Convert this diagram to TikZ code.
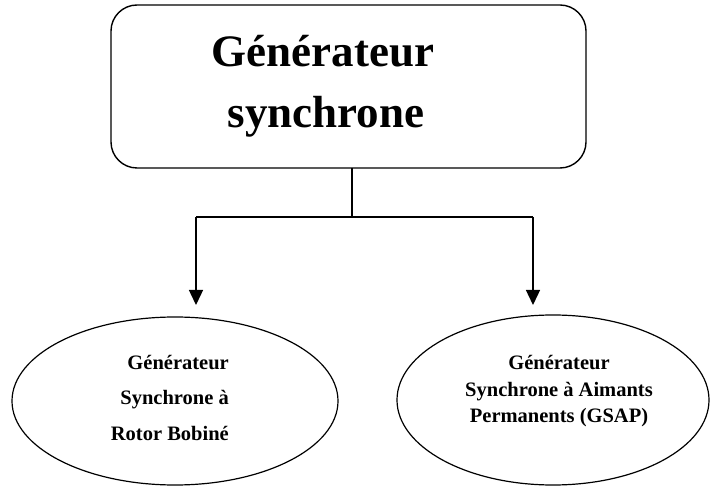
\documentclass[tikz,border=0pt]{standalone}
\usepackage{fontspec}
\setmainfont{Liberation Serif}
\usetikzlibrary{arrows.meta,shapes.geometric}
\begin{document}
\begin{tikzpicture}[x=1pt,y=-1pt,
  line/.style={line width=1.4pt,black},
  arr/.style={line, -{Triangle[length=15pt,width=14pt]}},
  titlebox/.style={draw,line width=1.4pt,rounded corners=26pt,minimum width=475pt,minimum height=163pt,inner sep=0pt},
  oval/.style={draw,ellipse,line width=1.2pt,inner sep=0pt},
  big/.style={font=\bfseries\fontsize{45}{54}\selectfont,inner sep=0pt,anchor=base},
  small/.style={font=\bfseries\fontsize{20.5}{25}\selectfont,inner sep=0pt,anchor=base},
  smallr/.style={small,anchor=base east}]
\useasboundingbox (0,0) rectangle (710,486);
\node[titlebox] (gen) at (348.5,86.5) {};
\node[big] (t1) at (323,67) {Générateur};
\node[big] (t2) at (326,128) {synchrone};
\node[oval,minimum width=326pt,minimum height=168pt] (left) at (175,401) {};
\node[oval,minimum width=312pt,minimum height=170pt] (right) at (553,400) {};
\node[smallr] (l1) at (229,370) {Générateur};
\node[smallr] (l2) at (229,405) {Synchrone à};
\node[smallr] (l3) at (229,440) {Rotor Bobiné};
\node[small] (r1) at (559,370) {Générateur};
\node[small] (r2) at (559,397) {Synchrone à Aimants};
\node[small] (r3) at (559,422) {Permanents (GSAP)};
\coordinate (js) at (352,168);
\coordinate (jm) at (352,217);
\coordinate (jl) at (196,217);
\coordinate (jr) at (533,217);
\coordinate (el) at (196,305);
\coordinate (er) at (533,305);
\draw[line] (js) -- (jm);
\draw[line] (jl) -- (jr);
\draw[arr] (jl) -- (el);
\draw[arr] (jr) -- (er);
\end{tikzpicture}
\end{document}
